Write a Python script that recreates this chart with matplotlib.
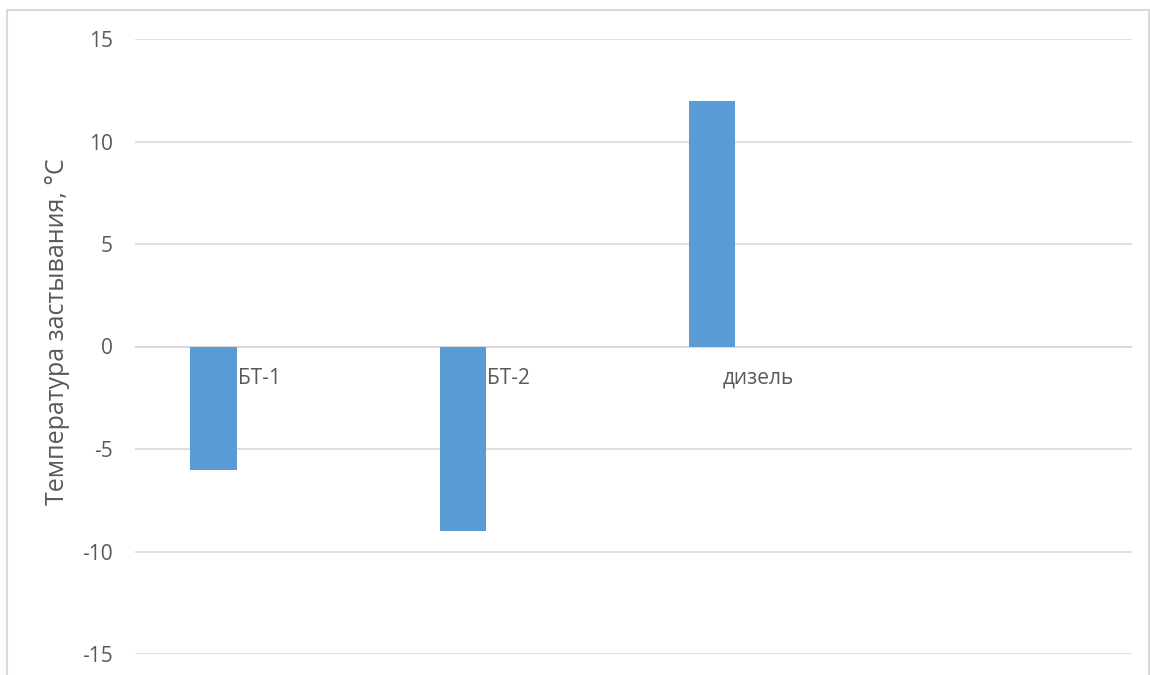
import numpy as np
import matplotlib.pyplot as plt
from matplotlib.patches import Rectangle

plt.rcParams['font.family'] = ['Open Sans', 'DejaVu Sans']

categories = ['БТ-1', 'БТ-2', 'дизель', '']
pour_point = [-6, -9, 12, np.nan]
y_ticks = [-15, -10, -5, 0, 5, 10, 15]

text_color = '#595959'
grid_color = '#D9D9D9'
bar_color = '#5B9BD5'

fig = plt.figure(figsize=(11.5, 6.75), dpi=100)
ax = fig.add_axes([135 / 1150, 21 / 675, 997 / 1150, 615 / 675])

x = np.arange(len(categories)) + 0.5
bar_w = 0.185
ax.bar(x - bar_w, pour_point, width=bar_w, color=bar_color, zorder=3)

ax.set_xlim(0, len(categories))
ax.set_ylim(-15, 15)
ax.set_yticks(y_ticks)
ax.set_yticklabels([str(v) for v in y_ticks], color=text_color, fontsize=15)
ax.tick_params(axis='y', length=0, pad=16)
ax.set_xticks([])
ax.grid(axis='y', color=grid_color, linewidth=1.2, zorder=0)
for s in ax.spines.values():
    s.set_visible(False)
ax.axhline(0, color=grid_color, linewidth=1.2, zorder=2)

# category names sit just under the zero line
for xi, name in zip(x, categories):
    ax.annotate(name, (xi, 0), xytext=(0, -23), textcoords='offset points',
                ha='center', va='center', fontsize=15, color=text_color)

fig.text(58 / 1150, 1 - 332 / 675, 'Температура застывания, °С', rotation=90,
         ha='center', va='center', fontsize=18, color=text_color)

# chart border
fig.patches.append(Rectangle((7 / 1150, -0.1), 1142 / 1150, 1 - 10 / 675 + 0.1,
                             transform=fig.transFigure, fill=False,
                             edgecolor=grid_color, linewidth=1.5))

fig.savefig('out.png', dpi=100)
